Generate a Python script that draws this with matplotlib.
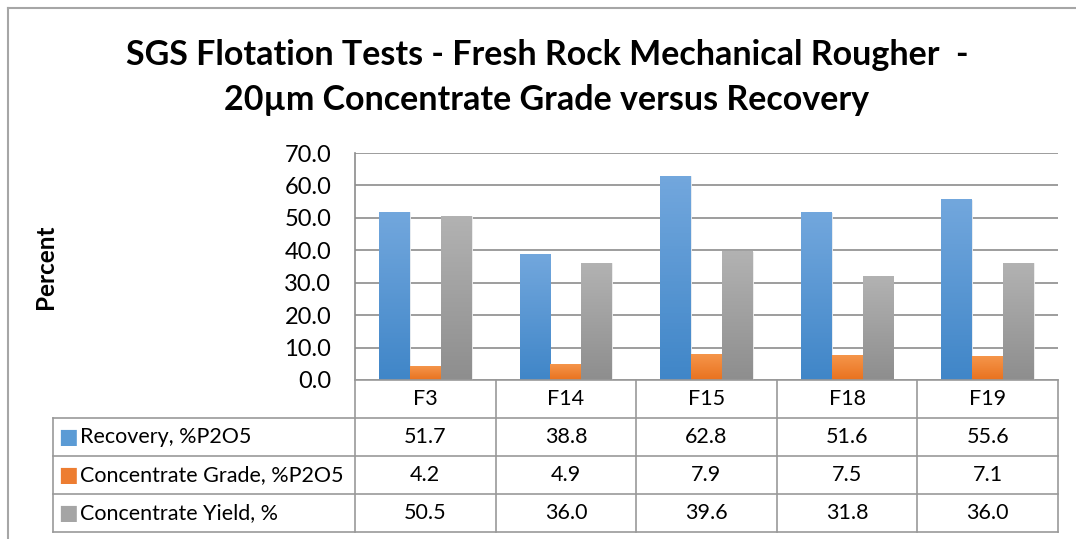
import numpy as np
import matplotlib
matplotlib.use('Agg')
import matplotlib.pyplot as plt
from matplotlib.lines import Line2D
from matplotlib.colors import LinearSegmentedColormap

plt.rcParams['font.family'] = ['Lato', 'DejaVu Sans']

# flotation test results
tests = ['F3', 'F14', 'F15', 'F18', 'F19']
recovery = [51.7, 38.8, 62.8, 51.6, 55.6]
grade = [4.2, 4.9, 7.9, 7.5, 7.1]
yld = [50.5, 36.0, 39.6, 31.8, 36.0]
series_names = ['Recovery, %P2O5', 'Concentrate Grade, %P2O5', 'Concentrate Yield, %']

series = [recovery, grade, yld]
# (top colour, bottom colour) of each bar gradient
grads = [('#72a7dd', '#4086c8'), ('#f5954a', '#e9721f'), ('#b2b2b2', '#8e8e8e')]
solid = ['#5b9bd5', '#ed7d31', '#a5a5a5']

W, H = 1076, 539
def box(l, t, r, b):
    return [l / W, 1 - b / H, (r - l) / W, (b - t) / H]

fig = plt.figure(figsize=(W / 100, H / 100), dpi=100)

# outer chart border
fig.add_artist(Line2D([8 / W, 1], [1 - 8 / H, 1 - 8 / H], color='#a6a6a6', lw=1.5))
fig.add_artist(Line2D([8 / W, 8 / W], [0, 1 - 8 / H], color='#a6a6a6', lw=1.5))

fig.text(547 / W, 1 - 55 / H, 'SGS Flotation Tests - Fresh Rock Mechanical Rougher  -',
         ha='center', va='center', fontsize=24.5, fontweight='bold')
fig.text(547 / W, 1 - 100 / H, '20µm Concentrate Grade versus Recovery',
         ha='center', va='center', fontsize=24.5, fontweight='bold')

ax = fig.add_axes(box(355, 153, 1058, 380))
x = np.arange(len(tests))
bw = 0.22
for i, vals in enumerate(series):
    bars = ax.bar(x + (i - 1) * bw, vals, bw, color=solid[i], edgecolor='#f2f2f2',
                  linewidth=0.6, zorder=3)
    cmap = LinearSegmentedColormap.from_list('g%d' % i, [grads[i][1], grads[i][0]])
    for b in bars:
        x0, w, h = b.get_x(), b.get_width(), b.get_height()
        ax.imshow(np.linspace(0, 1, 64).reshape(-1, 1), cmap=cmap, origin='lower',
                  extent=(x0, x0 + w, 0, h), aspect='auto', zorder=3.5,
                  clip_path=b, clip_on=True)

ax.set_xlim(-0.5, 4.5)
ax.set_ylim(0, 70)
ax.set_yticks(np.arange(0, 71, 10))
ax.set_yticklabels(['%.1f' % v for v in np.arange(0, 71, 10)], fontsize=17)
ax.tick_params(axis='y', length=0, pad=17)
ax.set_xticks([])
ax.yaxis.grid(True, color='#8c8c8c', lw=1.2)
ax.set_axisbelow(True)
for s in ['top', 'right', 'bottom']:
    ax.spines[s].set_visible(False)
ax.spines['left'].set_color('#8c8c8c')
ax.spines['left'].set_linewidth(1.2)
ax.set_ylabel('Percent', fontsize=17.5, fontweight='bold', labelpad=0)
ax.yaxis.set_label_coords(-(355 - 57) / 703, 0.5)

# data table under the bars
tb = fig.add_axes(box(53, 380, 1058, 532))
left = -0.5 - 302 / 140.6
tb.set_xlim(left, 4.5)
tb.set_ylim(4, 0)
tb.axis('off')
lc = '#999999'
tb.plot([-0.5, 4.5], [0, 0], color=lc, lw=1.2, clip_on=False)
for r in range(1, 5):
    tb.plot([left, 4.5], [r, r], color=lc, lw=1.2, clip_on=False)
for k in range(6):
    tb.plot([-0.5 + k, -0.5 + k], [0, 4], color=lc, lw=1.2, clip_on=False)
tb.plot([left, left], [1, 4], color=lc, lw=1.2, clip_on=False)

fs = 15.5
for j, t in enumerate(tests):
    tb.text(j, 0.5, t, ha='center', va='center', fontsize=fs)
for i, vals in enumerate(series):
    tb.text(left + 0.11, i + 1.5, '\u25a0', color=solid[i], ha='center', va='center',
            fontsize=15, family='DejaVu Sans')
    tb.text(left + 0.195, i + 1.5, series_names[i], ha='left', va='center', fontsize=fs)
    for j, v in enumerate(vals):
        tb.text(j, i + 1.5, '%.1f' % v, ha='center', va='center', fontsize=fs)

fig.savefig('out.png', dpi=100)
